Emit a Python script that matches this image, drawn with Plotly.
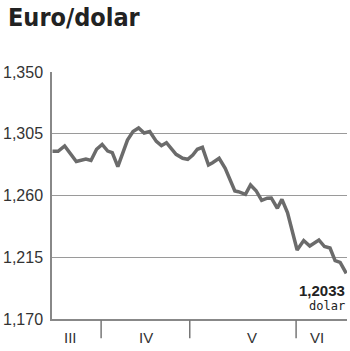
import plotly.graph_objects as go

# trading-day position and EUR/USD rate
day = [0, 1.1, 2.4, 3.4, 4.7, 6.6, 7.6, 8.7, 9.8, 10.9, 11.8, 12.9, 14.1, 14.8, 15.9,
       17.0, 18.1, 19.2, 20.5, 21.5, 22.5, 24.4, 25.7, 26.7, 27.7, 28.6, 29.6, 30.8,
       31.6, 32.9, 34.1, 36.0, 36.7, 38.1, 39.1, 40.2, 41.3, 42.4, 43.2, 44.4, 45.3,
       46.4, 48.3, 49.6, 50.8, 52.6, 53.7, 54.8, 55.8, 56.8, 58.0]
rate = [1.2922, 1.2922, 1.2961, 1.2913, 1.2848, 1.2866, 1.2855, 1.2937, 1.2972, 1.2924,
        1.2913, 1.2810, 1.2932, 1.3004, 1.3066, 1.3092, 1.3055, 1.3066, 1.2994, 1.2963,
        1.2985, 1.2900, 1.2871, 1.2864, 1.2895, 1.2937, 1.2951, 1.2822, 1.2839, 1.2871,
        1.2798, 1.2633, 1.2628, 1.2609, 1.2677, 1.2635, 1.2564, 1.2580, 1.2582, 1.2507,
        1.2572, 1.2476, 1.2203, 1.2272, 1.2232, 1.2276, 1.2228, 1.2217, 1.2125, 1.2113,
        1.2033]

y_ticks = [1.170, 1.215, 1.260, 1.305, 1.350]
y_labels = ["1,170", "1,215", "1,260", "1,305", "1,350"]

month_bounds = [9.6, 27.1, 48.1]
month_names = ["III", "IV", "V", "VI"]
month_centers = [3.5, 18.5, 39.3, 52.3]

last_label = "1,2033"
unit_label = "dolar"

fig = go.Figure()
fig.add_trace(go.Scatter(x=day, y=rate, mode="lines",
                         line=dict(color="#6b6b6b", width=3.5),
                         hoverinfo="skip", showlegend=False))

shapes = []
for b in month_bounds:
    shapes.append(dict(type="line", xref="x", yref="paper", x0=b, x1=b,
                       y0=-0.004, y1=-0.078, line=dict(color="#777", width=1.5)))

annotations = []
for name, c in zip(month_names, month_centers):
    annotations.append(dict(x=c, y=-0.075, xref="x", yref="paper", text=name,
                            showarrow=False, yanchor="middle",
                            font=dict(family="Liberation Sans", size=15, color="#333")))
annotations.append(dict(x=1.0, y=(319 - 290) / 247, xref="paper", yref="paper",
                        text="<b>" + last_label + "</b>", showarrow=False,
                        xanchor="right", yanchor="middle",
                        font=dict(family="Liberation Sans", size=15, color="#222")))
annotations.append(dict(x=1.0, y=(319 - 306) / 247, xref="paper", yref="paper",
                        text=unit_label, showarrow=False,
                        xanchor="right", yanchor="middle",
                        font=dict(family="DejaVu Sans Mono", size=12, color="#222")))
annotations.append(dict(x=(0 - 47) / 300, y=(319 - 17) / 247, xref="paper", yref="paper",
                        text="<b>Euro/dolar</b>", showarrow=False,
                        xanchor="left", yanchor="middle",
                        font=dict(family="DejaVu Sans Condensed", size=25, color="#222")))

fig.update_layout(
    width=350, height=351,
    margin=dict(l=47, r=3, t=72, b=32),
    paper_bgcolor="white", plot_bgcolor="white",
    shapes=shapes, annotations=annotations,
    xaxis=dict(range=[-0.1, 58.15], showgrid=False, zeroline=False,
               showticklabels=False, ticks="", showline=True,
               linecolor="#888", linewidth=1.5),
    yaxis=dict(range=[1.17, 1.35], tickvals=y_ticks, ticktext=y_labels,
               showgrid=True, gridcolor="#9a9a9a", gridwidth=1, zeroline=False,
               showline=True, linecolor="#888", linewidth=1.5, ticks="",
               ticklabelstandoff=4,
               tickfont=dict(family="Liberation Sans", size=16, color="#333")),
)

fig.write_html("out.html")
